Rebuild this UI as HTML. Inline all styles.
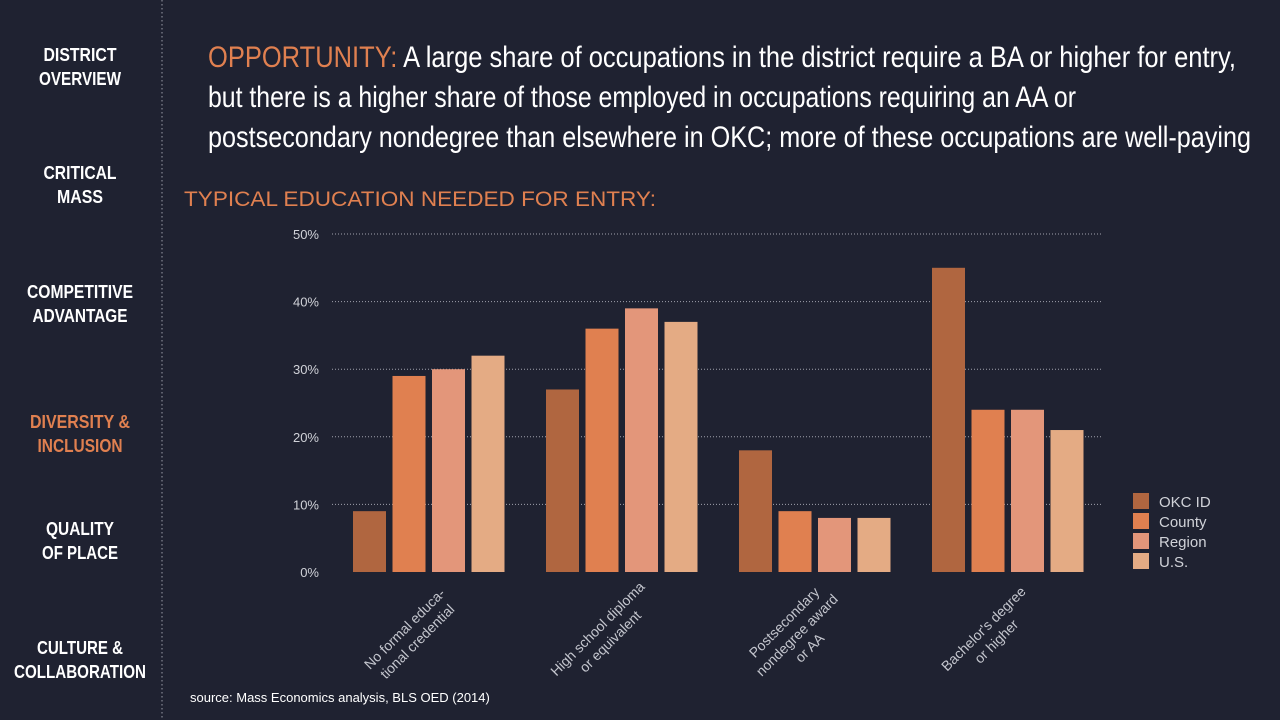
<!DOCTYPE html>
<html><head><meta charset="utf-8"><style>
html,body{margin:0;padding:0;background:#1f2231;}
svg{display:block;font-family:"Liberation Sans",sans-serif;}
</style></head><body>
<svg width="1280" height="720" viewBox="0 0 1280 720">
<rect width="1280" height="720" fill="#1f2231"/>
<g font-weight="bold" font-size="18" fill="#ffffff" text-anchor="middle">
  <text><tspan x="80" y="61" textLength="73" lengthAdjust="spacingAndGlyphs">DISTRICT</tspan><tspan x="80" y="85" textLength="82" lengthAdjust="spacingAndGlyphs">OVERVIEW</tspan></text>
  <text><tspan x="80" y="179" textLength="73" lengthAdjust="spacingAndGlyphs">CRITICAL</tspan><tspan x="80" y="203" textLength="46" lengthAdjust="spacingAndGlyphs">MASS</tspan></text>
  <text><tspan x="80" y="298" textLength="106" lengthAdjust="spacingAndGlyphs">COMPETITIVE</tspan><tspan x="80" y="322" textLength="95" lengthAdjust="spacingAndGlyphs">ADVANTAGE</tspan></text>
  <text fill="#e08050"><tspan x="80" y="428" textLength="100" lengthAdjust="spacingAndGlyphs">DIVERSITY &amp;</tspan><tspan x="80" y="452" textLength="85" lengthAdjust="spacingAndGlyphs">INCLUSION</tspan></text>
  <text><tspan x="80" y="535" textLength="68" lengthAdjust="spacingAndGlyphs">QUALITY</tspan><tspan x="80" y="559" textLength="76" lengthAdjust="spacingAndGlyphs">OF PLACE</tspan></text>
  <text><tspan x="80" y="654" textLength="86" lengthAdjust="spacingAndGlyphs">CULTURE &amp;</tspan><tspan x="80" y="678" textLength="132" lengthAdjust="spacingAndGlyphs">COLLABORATION</tspan></text>
</g>
<line x1="162" y1="0" x2="162" y2="720" stroke="#9a9ca8" stroke-width="1" stroke-dasharray="1.5,2.5"/>
<g font-family="'Liberation Sans Narrow','Liberation Sans',sans-serif" font-size="30" fill="#ffffff">
  <text x="208" y="67" textLength="1028" lengthAdjust="spacingAndGlyphs"><tspan fill="#e08050">OPPORTUNITY:</tspan> A large share of occupations in the district require a BA or higher for entry,</text>
  <text x="208" y="107" textLength="868" lengthAdjust="spacingAndGlyphs">but there is a higher share of those employed in occupations requiring an AA or</text>
  <text x="208" y="147" textLength="1043" lengthAdjust="spacingAndGlyphs">postsecondary nondegree than elsewhere in OKC; more of these occupations are well-paying</text>
</g>
<text x="184" y="206" font-size="21" fill="#e08050" textLength="472" lengthAdjust="spacingAndGlyphs">TYPICAL EDUCATION NEEDED FOR ENTRY:</text>
<g id="chart"></g>
<text x="190" y="702" font-size="13" fill="#ffffff">source: Mass Economics analysis, BLS OED (2014)</text>
</svg>
<script>
const categories = [["No formal educa-","tional credential"],["High school diploma","or equivalent"],["Postsecondary","nondegree award","or AA"],["Bachelor's degree","or higher"]];
const seriesNames = ["OKC ID","County","Region","U.S."];
const okcId = [9,27,18,45];
const county = [29,36,9,24];
const region = [30,39,8,24];
const us = [32,37,8,21];
const yTicks = [0,10,20,30,40,50];
const colors = ["#b06640","#e08050","#e3967a","#e4ab84"];
const series = [okcId,county,region,us];
const NS="http://www.w3.org/2000/svg";
const g=document.getElementById('chart');
const y0=572, yTop=234, maxV=50;
const y=v=>y0-(v/maxV)*(y0-yTop);
const gx=i=>353+i*193, bw=33, step=39.5;
function mk(t,a){const e=document.createElementNS(NS,t);for(const k in a)e.setAttribute(k,a[k]);g.appendChild(e);return e;}
yTicks.forEach(t=>{
  if(t>0){const l=mk('line',{x1:332,x2:1102,y1:y(t),y2:y(t),stroke:'#a0a2ad','stroke-width':1,'stroke-dasharray':'1,2'});
  
  }
  const tx=mk('text',{x:319,y:y(t)+5,'text-anchor':'end','font-size':13,fill:'#d0d2d8'});
  tx.textContent=t+'%';
  
  
});
categories.forEach((c,i)=>{
  series.forEach((s,j)=>{
    const r=mk('rect',{x:gx(i)+j*step,y:y(s[i]),width:bw,height:y0-y(s[i]),fill:colors[j]});
    
    
  });
  const cx=gx(i)+step*1.5+bw/2-18, n=c.length;
  const t=mk('text',{transform:`translate(${cx},635) rotate(-45)`,'text-anchor':'middle','font-size':14,fill:'#c4c6ce'});
  
  
  c.forEach((line,k)=>{const ts=document.createElementNS(NS,'tspan');ts.setAttribute('x',0);ts.setAttribute('y',(k-(n-1)/2)*18+5);ts.textContent=line;t.appendChild(ts);});
});
seriesNames.forEach((nm,j)=>{
  const yy=493+j*20;
  const r=mk('rect',{x:1133,y:yy,width:16,height:16,fill:colors[j]});
  
  
  const t=mk('text',{x:1159,y:yy+14,'font-size':15,fill:'#d0d2d8'});
  t.textContent=nm;
  
  
});
</script>
</body></html>
